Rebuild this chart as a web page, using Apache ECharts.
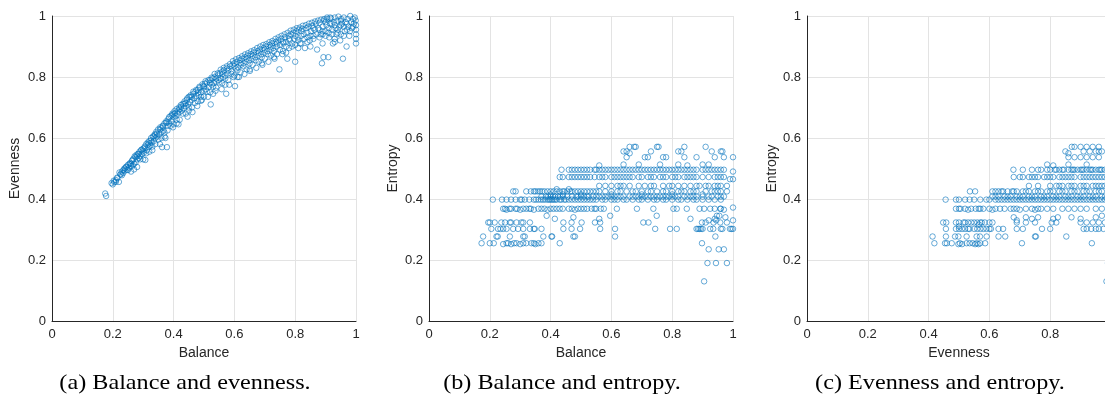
<!DOCTYPE html>
<html lang="en">
<head>
    <meta charset="UTF-8">
    <title>Balance, evenness and entropy</title>
    <script src="https://cdn.jsdelivr.net/npm/echarts@6.0.0/dist/echarts.min.js"></script>
    <style>
        * {
            margin: 0;
            padding: 0;
            box-sizing: border-box;
        }

        body {
            background-color: #ffffff;
        }

        #chart {
            width: 1105px;
            height: 394px;
        }
    </style>
</head>
<body>
    <div id="chart"></div>

    <script>
        // (a) balance -> evenness
        const balanceEvenness = [
            [0.175,0.418],[0.178,0.41],[0.196,0.452],[0.2,0.448],[0.203,0.46],[0.21,0.456],[0.214,0.47],[0.22,0.456],
            [0.222,0.487],[0.226,0.482],[0.23,0.49],[0.234,0.485],[0.238,0.5],[0.24,0.493],[0.244,0.506],[0.248,0.496],
            [0.25,0.512],[0.254,0.503],[0.257,0.518],[0.26,0.508],[0.263,0.525],[0.266,0.51],[0.268,0.532],[0.27,0.497],
            [0.272,0.54],[0.275,0.52],[0.278,0.545],[0.28,0.53],[0.283,0.548],[0.286,0.535],[0.288,0.555],[0.29,0.54],
            [0.293,0.56],[0.296,0.548],[0.3,0.565],[0.302,0.552],[0.305,0.572],[0.307,0.528],[0.31,0.58],[0.312,0.56],
            [0.315,0.585],[0.318,0.57],[0.32,0.59],[0.323,0.575],[0.326,0.6],[0.328,0.585],[0.332,0.605],[0.335,0.59],
            [0.338,0.612],[0.34,0.6],[0.343,0.62],[0.346,0.605],[0.349,0.628],[0.352,0.612],[0.355,0.58],[0.356,0.635],
            [0.36,0.62],[0.362,0.57],[0.364,0.64],[0.367,0.625],[0.37,0.648],[0.373,0.6],[0.376,0.655],[0.378,0.57],
            [0.38,0.64],[0.383,0.662],[0.386,0.648],[0.39,0.672],[0.393,0.655],[0.396,0.68],[0.398,0.635],[0.4,0.668],
            [0.403,0.688],[0.406,0.672],[0.41,0.695],[0.413,0.68],[0.416,0.645],[0.418,0.7],[0.42,0.685],[0.424,0.708],
            [0.427,0.69],[0.43,0.712],[0.433,0.698],[0.436,0.72],[0.44,0.705],[0.443,0.725],[0.446,0.67],[0.448,0.71],
            [0.45,0.735],[0.453,0.718],[0.456,0.74],[0.46,0.725],[0.462,0.685],[0.465,0.745],[0.468,0.73],[0.472,0.752],
            [0.475,0.738],[0.478,0.705],[0.48,0.758],[0.483,0.742],[0.486,0.765],[0.49,0.75],[0.493,0.725],[0.496,0.77],
            [0.5,0.755],[0.503,0.778],[0.506,0.76],[0.51,0.782],[0.513,0.735],[0.516,0.768],[0.52,0.79],[0.522,0.71],
            [0.525,0.775],[0.528,0.795],[0.532,0.78],[0.535,0.8],[0.538,0.755],[0.54,0.785],[0.545,0.805],[0.548,0.79],
            [0.552,0.812],[0.555,0.795],[0.558,0.76],[0.56,0.818],[0.563,0.8],[0.566,0.822],[0.57,0.805],[0.573,0.745],
            [0.576,0.828],[0.58,0.812],[0.583,0.775],[0.586,0.835],[0.59,0.818],[0.594,0.84],[0.597,0.8],[0.6,0.845],
            [0.602,0.77],[0.605,0.828],[0.608,0.85],[0.612,0.832],[0.615,0.8],[0.618,0.855],[0.622,0.84],[0.626,0.86],
            [0.63,0.845],[0.633,0.81],[0.636,0.865],[0.64,0.85],[0.644,0.87],[0.648,0.855],[0.651,0.82],[0.655,0.875],
            [0.66,0.86],[0.664,0.88],[0.668,0.865],[0.672,0.83],[0.676,0.885],[0.68,0.87],[0.684,0.89],[0.688,0.875],
            [0.692,0.84],[0.696,0.895],[0.7,0.88],[0.704,0.9],[0.708,0.885],[0.712,0.85],[0.716,0.905],[0.72,0.89],
            [0.724,0.91],[0.728,0.895],[0.732,0.86],[0.736,0.915],[0.74,0.9],[0.744,0.92],[0.748,0.825],[0.75,0.905],
            [0.754,0.925],[0.758,0.875],[0.762,0.91],[0.766,0.93],[0.77,0.915],[0.774,0.86],[0.778,0.935],[0.782,0.92],
            [0.786,0.94],[0.79,0.9],[0.794,0.945],[0.798,0.925],[0.8,0.85],[0.804,0.95],[0.808,0.93],[0.812,0.955],
            [0.816,0.91],[0.82,0.935],[0.824,0.958],[0.828,0.94],[0.832,0.895],[0.836,0.96],[0.84,0.945],[0.844,0.965],
            [0.848,0.92],[0.852,0.95],[0.856,0.968],[0.86,0.935],[0.864,0.955],[0.868,0.975],[0.872,0.89],[0.876,0.96],
            [0.88,0.978],[0.884,0.94],[0.888,0.845],[0.89,0.965],[0.893,0.865],[0.896,0.985],[0.9,0.95],[0.903,0.97],
            [0.906,0.99],[0.909,0.865],[0.912,0.93],[0.915,0.975],[0.918,0.992],[0.921,0.955],[0.924,0.91],[0.927,0.98],
            [0.93,0.995],[0.933,0.96],[0.936,0.94],[0.939,0.985],[0.942,0.998],[0.945,0.965],[0.948,0.92],[0.951,0.99],
            [0.954,0.975],[0.957,0.86],[0.96,0.995],[0.963,0.95],[0.966,0.98],[0.969,0.9],[0.972,0.99],[0.975,0.965],
            [0.978,0.935],[0.981,1.0],[0.984,0.98],[0.987,0.96],[0.99,0.99],[0.993,0.975],[0.996,0.995],[0.999,0.985],
            [1.0,0.97],[1.0,0.955],[1.0,0.94],[1.0,0.925],[1.0,0.91],
            [0.88,0.955],[0.89,0.94],[0.91,0.945],[0.92,0.975],[0.93,0.925],[0.94,0.955],[0.95,0.94],[0.96,0.965],
            [0.97,0.975],[0.95,0.985],[0.9,0.98],[0.86,0.96],[0.84,0.93],[0.82,0.95],[0.8,0.935],[0.78,0.925],
            [0.76,0.915],[0.74,0.91],[0.72,0.9],[0.7,0.89],[0.68,0.88],[0.66,0.87],[0.64,0.86],[0.62,0.845],
            [0.6,0.835],[0.58,0.822],[0.56,0.81],[0.54,0.795],[0.52,0.78],[0.5,0.768],[0.48,0.748],[0.46,0.735],
            [0.44,0.715],[0.42,0.695],[0.4,0.678],[0.38,0.652],[0.36,0.632],[0.34,0.61],[0.32,0.582],[0.3,0.558],
            [0.28,0.54],[0.26,0.515],[0.24,0.5],
            [0.21,0.462],[0.23,0.478],[0.25,0.495],[0.27,0.515],[0.29,0.53],[0.31,0.55],[0.33,0.572],[0.35,0.595],
            [0.37,0.618],[0.39,0.64],[0.41,0.66],[0.43,0.68],[0.45,0.7],[0.47,0.715],[0.49,0.735],[0.51,0.752],
            [0.53,0.768],[0.55,0.782],[0.57,0.795],[0.59,0.81],[0.61,0.822],[0.63,0.835],[0.65,0.845],[0.67,0.855],
            [0.69,0.865],[0.71,0.875],[0.73,0.885],[0.75,0.89],[0.77,0.9],[0.79,0.91],[0.81,0.92],[0.83,0.925],
            [0.85,0.935],[0.87,0.94],[0.89,0.95],[0.91,0.96],[0.93,0.97],[0.95,0.97],[0.97,0.955],[0.99,0.965],
            [0.26,0.49],[0.28,0.505],[0.3,0.53],[0.32,0.555],[0.34,0.58],[0.36,0.6],[0.38,0.625],[0.4,0.645],
            [0.42,0.66],[0.44,0.68],[0.46,0.7],[0.48,0.72],[0.5,0.735],[0.52,0.75],[0.54,0.765],[0.56,0.78],
            [0.58,0.79],[0.6,0.805],[0.62,0.815],[0.64,0.825],[0.66,0.84],[0.68,0.85],[0.7,0.86],[0.72,0.87],
            [0.74,0.875],[0.76,0.885],[0.78,0.895],[0.8,0.905],[0.82,0.91],[0.84,0.915],[0.86,0.925],[0.88,0.93],
            [0.9,0.935],[0.92,0.94],[0.94,0.945],[0.96,0.935],[0.98,0.95],
            [0.205,0.455],[0.215,0.468],[0.225,0.48],[0.235,0.495],[0.245,0.505],[0.255,0.515],[0.265,0.528],[0.275,0.538],
            [0.285,0.548],[0.295,0.562],[0.305,0.568],[0.315,0.578],[0.325,0.592],[0.335,0.605],[0.345,0.615],[0.355,0.628],
            [0.365,0.638],[0.375,0.65],[0.385,0.668],[0.395,0.675],[0.405,0.682],[0.415,0.69],[0.425,0.702],[0.435,0.712],
            [0.445,0.73],[0.455,0.735],[0.465,0.752],[0.475,0.758],[0.485,0.768],[0.495,0.776],[0.505,0.786],[0.515,0.79],
            [0.525,0.798],[0.535,0.81],[0.545,0.812],[0.555,0.824],[0.565,0.83],[0.575,0.835],[0.585,0.842],[0.595,0.852],
            [0.605,0.858],[0.615,0.862],[0.625,0.868],[0.635,0.874],[0.645,0.878],[0.655,0.884],[0.665,0.888],[0.675,0.895],
            [0.685,0.9],[0.695,0.905],[0.705,0.908],[0.715,0.914],[0.725,0.918],[0.735,0.925],[0.745,0.93],[0.755,0.935],
            [0.765,0.94],[0.775,0.945],[0.785,0.952],[0.795,0.955],[0.805,0.96],[0.815,0.962],[0.825,0.968],[0.835,0.97],
            [0.845,0.975],[0.855,0.978],[0.865,0.982],[0.875,0.985],[0.885,0.988],[0.895,0.99],[0.905,0.995],[0.915,0.995],
            [0.33,0.56],[0.37,0.605],[0.41,0.648],[0.45,0.69],[0.49,0.722],[0.53,0.745],[0.57,0.775],[0.61,0.8],
            [0.65,0.825],[0.69,0.845],[0.73,0.865],[0.77,0.88],[0.81,0.895],[0.85,0.9],[0.89,0.91],[0.93,0.915]
        ];

        // (b) balance -> entropy
        const balanceEntropy = [
            [0.173,0.255],[0.2,0.255],[0.213,0.255],[0.244,0.252],[0.26,0.255],[0.27,0.252],[0.288,0.255],[0.3,0.252],
            [0.31,0.255],[0.32,0.255],[0.337,0.255],[0.35,0.252],[0.36,0.255],[0.37,0.255],[0.43,0.255],[0.255,0.255],
            [0.28,0.255],[0.345,0.255],[0.898,0.255],
            [0.178,0.277],[0.222,0.277],[0.266,0.277],[0.31,0.277],[0.315,0.277],[0.376,0.277],[0.403,0.277],[0.405,0.277],
            [0.475,0.277],[0.48,0.277],[0.612,0.277],[0.942,0.277],[0.226,0.277],
            [0.205,0.302],[0.227,0.302],[0.235,0.302],[0.244,0.302],[0.255,0.302],[0.277,0.302],[0.293,0.302],[0.31,0.302],
            [0.332,0.302],[0.345,0.302],[0.348,0.302],[0.37,0.302],[0.442,0.302],[0.469,0.302],[0.497,0.302],[0.563,0.302],
            [0.612,0.302],[0.744,0.302],[0.793,0.302],[0.815,0.302],[0.88,0.302],[0.885,0.302],[0.89,0.302],[0.895,0.302],
            [0.9,0.302],[0.925,0.302],[0.935,0.302],[0.96,0.302],[0.965,0.302],[0.99,0.302],[0.995,0.302],[1.0,0.302],
            [0.195,0.323],[0.2,0.323],[0.216,0.323],[0.238,0.323],[0.25,0.323],[0.266,0.323],[0.27,0.323],[0.288,0.323],
            [0.304,0.323],[0.31,0.323],[0.332,0.323],[0.442,0.323],[0.469,0.323],[0.502,0.323],[0.546,0.323],[0.563,0.323],
            [0.705,0.323],[0.722,0.323],[0.898,0.323],[0.91,0.323],[0.936,0.323],[0.958,0.323],[0.98,0.323],[1.0,0.33],
            [0.92,0.33],[0.945,0.33],
            [0.387,0.345],[0.414,0.335],[0.475,0.34],[0.56,0.335],[0.596,0.345],[0.749,0.345],[0.86,0.335],[0.947,0.345],
            [0.975,0.34],[0.94,0.335],[0.955,0.345],
            [0.244,0.368],[0.255,0.365],[0.27,0.368],[0.285,0.368],[0.3,0.365],[0.31,0.368],[0.32,0.368],[0.335,0.368],
            [0.345,0.365],[0.36,0.368],[0.38,0.368],[0.39,0.365],[0.4,0.368],[0.41,0.368],[0.42,0.368],[0.46,0.368],
            [0.47,0.368],[0.48,0.365],[0.49,0.368],[0.5,0.368],[0.52,0.368],[0.535,0.368],[0.55,0.368],[0.565,0.368],
            [0.575,0.368],[0.618,0.368],[0.684,0.368],[0.738,0.368],[0.804,0.368],[0.815,0.368],[0.848,0.368],[0.89,0.368],
            [0.905,0.368],[0.925,0.368],[0.94,0.368],[0.958,0.368],[1.0,0.372],
            [0.25,0.368],[0.265,0.368],[0.29,0.368],[0.33,0.368],[0.37,0.368],[0.43,0.368],[0.44,0.368],[0.51,0.368],
            [0.545,0.368],[0.96,0.368],[0.97,0.365],
            [0.21,0.398],[0.24,0.398],[0.255,0.398],[0.27,0.398],[0.285,0.398],[0.3,0.398],[0.33,0.398],[0.345,0.398],
            [0.36,0.398],[0.375,0.398],[0.39,0.398],[0.4,0.398],[0.41,0.398],[0.42,0.398],[0.43,0.398],[0.445,0.398],
            [0.46,0.398],[0.48,0.398],[0.5,0.398],[0.52,0.398],[0.55,0.398],[0.6,0.398],[0.62,0.398],[0.65,0.398],
            [0.7,0.398],[0.72,0.398],[0.75,0.398],[0.78,0.398],[0.8,0.398],[0.83,0.398],[0.88,0.398],[0.9,0.398],
            [0.92,0.398],[0.94,0.398],[0.96,0.398],
            [0.305,0.398],[0.315,0.398],[0.352,0.398],[0.368,0.398],[0.382,0.398],[0.395,0.398],[0.405,0.398],[0.415,0.398],
            [0.435,0.398],[0.45,0.398],[0.47,0.398],[0.49,0.398],[0.51,0.398],[0.53,0.398],[0.54,0.398],[0.57,0.398],
            [0.58,0.398],[0.61,0.398],[0.64,0.398],[0.67,0.398],[0.69,0.398],[0.74,0.398],[0.77,0.398],[0.82,0.398],
            [0.85,0.398],[0.87,0.398],
            [0.37,0.408],[0.385,0.408],[0.4,0.408],[0.415,0.408],[0.425,0.408],[0.44,0.408],[0.47,0.408],[0.485,0.408],
            [0.5,0.408],[0.51,0.408],[0.525,0.408],[0.54,0.408],[0.56,0.408],[0.58,0.408],[0.6,0.408],[0.61,0.408],
            [0.63,0.408],[0.66,0.408],[0.68,0.408],[0.69,0.408],[0.71,0.408],[0.73,0.408],[0.74,0.408],[0.76,0.408],
            [0.77,0.408],[0.79,0.408],[0.81,0.408],[0.85,0.408],[0.86,0.408],[0.9,0.408],[0.93,0.408],[0.95,0.408],
            [0.97,0.408],
            [0.392,0.408],[0.408,0.408],[0.432,0.408],[0.455,0.408],[0.49,0.408],[0.52,0.408],[0.55,0.408],[0.57,0.408],
            [0.59,0.408],[0.62,0.408],[0.64,0.408],[0.67,0.408],[0.7,0.408],[0.72,0.408],[0.75,0.408],[0.78,0.408],
            [0.8,0.408],[0.82,0.408],[0.84,0.408],[0.87,0.408],[0.88,0.408],[0.92,0.408],[0.96,0.408],
            [0.4,0.415],[0.44,0.415],[0.5,0.415],[0.6,0.415],[0.7,0.415],[0.8,0.415],[0.9,0.415],
            [0.277,0.425],[0.285,0.425],[0.32,0.425],[0.335,0.425],[0.35,0.425],[0.365,0.425],[0.38,0.425],[0.39,0.425],
            [0.41,0.425],[0.43,0.425],[0.44,0.425],[0.455,0.425],[0.47,0.425],[0.49,0.425],[0.5,0.425],[0.51,0.425],
            [0.53,0.425],[0.55,0.425],[0.56,0.425],[0.6,0.425],[0.63,0.425],[0.65,0.425],[0.68,0.425],[0.7,0.425],
            [0.73,0.425],[0.75,0.425],[0.78,0.425],[0.8,0.425],[0.82,0.425],[0.84,0.425],[0.86,0.425],[0.88,0.425],
            [0.93,0.425],[0.95,0.425],[0.96,0.425],[0.98,0.425],[0.42,0.432],[0.46,0.432],
            [0.345,0.425],[0.358,0.425],[0.372,0.425],[0.4,0.425],[0.42,0.425],[0.445,0.425],[0.465,0.425],[0.48,0.425],
            [0.52,0.425],[0.54,0.425],[0.58,0.425],[0.62,0.425],[0.67,0.425],[0.72,0.425],[0.77,0.425],[0.83,0.425],
            [0.87,0.425],[0.91,0.425],[0.94,0.425],
            [0.56,0.443],[0.58,0.443],[0.6,0.443],[0.63,0.443],[0.64,0.443],[0.69,0.443],[0.71,0.443],[0.74,0.443],
            [0.77,0.443],[0.8,0.443],[0.84,0.443],[0.86,0.443],[0.89,0.443],[0.91,0.443],[0.92,0.443],[0.94,0.443],
            [0.96,0.443],[0.98,0.443],
            [0.62,0.443],[0.66,0.443],[0.73,0.443],[0.79,0.443],[0.82,0.443],[0.88,0.443],[0.95,0.443],
            [0.43,0.472],[0.44,0.472],[0.46,0.472],[0.47,0.472],[0.49,0.472],[0.5,0.472],[0.52,0.472],[0.53,0.472],
            [0.545,0.472],[0.56,0.472],[0.58,0.472],[0.6,0.472],[0.62,0.472],[0.64,0.472],[0.65,0.472],[0.67,0.472],
            [0.69,0.472],[0.72,0.472],[0.74,0.472],[0.76,0.472],[0.78,0.472],[0.8,0.472],[0.82,0.472],[0.84,0.472],
            [0.85,0.472],[0.87,0.472],[0.9,0.472],[0.92,0.472],[0.95,0.472],[0.97,0.472],[0.99,0.465],[1.0,0.465],
            [0.48,0.472],[0.51,0.472],[0.57,0.472],[0.61,0.472],[0.63,0.472],[0.66,0.472],[0.7,0.472],[0.73,0.472],
            [0.77,0.472],[0.81,0.472],[0.86,0.472],[0.88,0.472],[0.94,0.472],[0.96,0.472],
            [0.436,0.496],[0.46,0.496],[0.47,0.496],[0.49,0.496],[0.5,0.496],[0.52,0.496],[0.53,0.496],[0.545,0.496],
            [0.55,0.496],[0.57,0.496],[0.59,0.496],[0.6,0.496],[0.61,0.496],[0.62,0.496],[0.64,0.496],[0.66,0.496],
            [0.68,0.496],[0.69,0.496],[0.7,0.496],[0.72,0.496],[0.73,0.496],[0.75,0.496],[0.77,0.496],[0.78,0.496],
            [0.79,0.496],[0.81,0.496],[0.83,0.496],[0.85,0.496],[0.86,0.496],[0.87,0.496],[0.9,0.496],[0.91,0.496],
            [0.94,0.496],[0.95,0.496],[0.97,0.496],[1.0,0.49],
            [0.48,0.496],[0.51,0.496],[0.56,0.496],[0.58,0.496],[0.63,0.496],[0.65,0.496],[0.67,0.496],[0.71,0.496],
            [0.74,0.496],[0.76,0.496],[0.8,0.496],[0.82,0.496],[0.84,0.496],[0.88,0.496],[0.92,0.496],[0.93,0.496],
            [0.96,0.496],
            [0.56,0.51],[0.64,0.513],[0.69,0.513],[0.76,0.513],[0.82,0.513],[0.85,0.51],[0.9,0.513],[0.92,0.513],
            [0.65,0.537],[0.71,0.537],[0.72,0.537],[0.77,0.537],[0.78,0.537],[0.84,0.537],[0.88,0.537],[0.94,0.537],
            [0.97,0.537],[1.0,0.537],
            [0.64,0.556],[0.65,0.556],[0.66,0.55],[0.73,0.556],[0.82,0.556],[0.83,0.556],[0.93,0.556],[0.96,0.556],
            [0.965,0.556],
            [0.66,0.571],[0.675,0.571],[0.68,0.571],[0.75,0.571],[0.755,0.571],[0.84,0.571],[0.91,0.571],
            [0.92,0.235],[0.953,0.235],[0.97,0.235],[0.916,0.19],[0.944,0.19],[0.98,0.19],[0.905,0.13]
        ];

        // (c) evenness -> entropy
        const evennessEntropy = [
            [0.419,0.255],[0.454,0.255],[0.46,0.255],[0.476,0.255],[0.498,0.252],[0.503,0.255],[0.525,0.255],[0.535,0.255],
            [0.553,0.252],[0.558,0.255],[0.564,0.252],[0.57,0.255],[0.586,0.255],[0.707,0.255],[0.937,0.255],[0.51,0.252],
            [0.545,0.255],
            [0.413,0.277],[0.457,0.277],[0.487,0.277],[0.498,0.277],[0.525,0.277],[0.558,0.277],[0.569,0.277],[0.591,0.277],
            [0.63,0.277],[0.652,0.277],[0.75,0.277],[0.753,0.277],[0.853,0.277],
            [0.457,0.302],[0.49,0.302],[0.5,0.302],[0.51,0.302],[0.52,0.302],[0.535,0.302],[0.55,0.302],[0.57,0.302],
            [0.58,0.302],[0.6,0.302],[0.605,0.302],[0.63,0.302],[0.645,0.302],[0.69,0.302],[0.71,0.302],[0.773,0.302],
            [0.8,0.302],[0.91,0.302],[0.92,0.302],[0.935,0.302],[0.95,0.302],[0.96,0.302],[0.975,0.302],
            [0.53,0.302],[0.56,0.302],[0.59,0.302],
            [0.448,0.323],[0.458,0.323],[0.49,0.323],[0.5,0.323],[0.515,0.323],[0.53,0.323],[0.54,0.323],[0.55,0.323],
            [0.56,0.323],[0.575,0.323],[0.585,0.323],[0.61,0.323],[0.69,0.323],[0.72,0.323],[0.75,0.323],[0.805,0.323],
            [0.82,0.323],[0.9,0.323],[0.92,0.323],[0.94,0.323],[0.96,0.323],[0.98,0.323],[0.565,0.316],[0.5,0.31],
            [0.52,0.323],[0.57,0.323],[0.6,0.323],
            [0.68,0.34],[0.69,0.33],[0.72,0.34],[0.74,0.335],[0.76,0.34],[0.81,0.335],[0.825,0.34],[0.87,0.34],
            [0.9,0.335],[0.95,0.34],[0.97,0.345],
            [0.49,0.368],[0.505,0.368],[0.52,0.368],[0.53,0.365],[0.54,0.368],[0.555,0.368],[0.565,0.368],[0.58,0.368],
            [0.6,0.368],[0.61,0.365],[0.62,0.368],[0.635,0.368],[0.65,0.368],[0.67,0.368],[0.69,0.368],[0.7,0.365],
            [0.72,0.368],[0.74,0.368],[0.75,0.365],[0.77,0.368],[0.79,0.368],[0.81,0.368],[0.84,0.368],[0.86,0.368],
            [0.88,0.368],[0.9,0.368],[0.92,0.368],[0.95,0.368],[0.97,0.368],
            [0.5,0.368],[0.57,0.368],[0.68,0.368],[0.76,0.368],
            [0.456,0.398],[0.49,0.398],[0.5,0.398],[0.52,0.398],[0.535,0.398],[0.55,0.398],[0.57,0.398],[0.59,0.398],
            [0.6,0.398],[0.62,0.398],[0.64,0.398],[0.66,0.398],[0.68,0.398],[0.7,0.398],[0.72,0.398],[0.74,0.398],
            [0.76,0.398],[0.78,0.398],[0.8,0.398],[0.82,0.398],[0.84,0.398],[0.86,0.398],[0.88,0.398],[0.9,0.398],
            [0.92,0.398],[0.94,0.398],[0.96,0.398],[0.98,0.398],
            [0.63,0.398],[0.65,0.398],[0.67,0.398],[0.69,0.398],[0.71,0.398],[0.73,0.398],[0.75,0.398],[0.77,0.398],
            [0.79,0.398],[0.81,0.398],[0.83,0.398],[0.85,0.398],[0.87,0.398],[0.89,0.398],[0.91,0.398],[0.93,0.398],
            [0.95,0.398],[0.97,0.398],
            [0.61,0.408],[0.63,0.408],[0.65,0.408],[0.67,0.408],[0.69,0.408],[0.71,0.408],[0.73,0.408],[0.75,0.408],
            [0.77,0.408],[0.79,0.408],[0.81,0.408],[0.83,0.408],[0.85,0.408],[0.87,0.408],[0.89,0.408],[0.91,0.408],
            [0.93,0.408],[0.95,0.408],[0.97,0.408],
            [0.62,0.408],[0.66,0.408],[0.7,0.408],[0.74,0.408],[0.78,0.408],[0.82,0.408],[0.86,0.408],[0.9,0.408],
            [0.94,0.408],[0.98,0.408],
            [0.536,0.425],[0.553,0.425],[0.61,0.425],[0.62,0.425],[0.63,0.425],[0.645,0.425],[0.66,0.425],[0.675,0.425],
            [0.69,0.425],[0.71,0.425],[0.73,0.425],[0.75,0.425],[0.77,0.425],[0.79,0.425],[0.81,0.425],[0.83,0.425],
            [0.85,0.425],[0.87,0.425],[0.89,0.425],[0.91,0.425],[0.93,0.425],[0.95,0.425],[0.97,0.425],
            [0.64,0.425],[0.68,0.425],[0.72,0.425],[0.76,0.425],[0.8,0.425],[0.84,0.425],[0.88,0.425],[0.92,0.425],
            [0.96,0.425],
            [0.73,0.443],[0.76,0.443],[0.8,0.443],[0.82,0.443],[0.84,0.443],[0.86,0.443],[0.88,0.443],[0.9,0.443],
            [0.92,0.443],[0.94,0.443],[0.96,0.443],[0.98,0.443],
            [0.83,0.443],[0.87,0.443],[0.91,0.443],[0.95,0.443],[0.97,0.443],
            [0.68,0.472],[0.7,0.472],[0.71,0.472],[0.73,0.472],[0.74,0.472],[0.76,0.472],[0.78,0.472],[0.8,0.472],
            [0.81,0.472],[0.83,0.472],[0.85,0.472],[0.86,0.472],[0.88,0.472],[0.9,0.472],[0.91,0.472],[0.93,0.472],
            [0.95,0.472],[0.96,0.472],[0.98,0.472],
            [0.75,0.472],[0.79,0.472],[0.84,0.472],[0.87,0.472],[0.92,0.472],[0.94,0.472],[0.97,0.472],
            [0.679,0.496],[0.71,0.496],[0.74,0.496],[0.76,0.496],[0.77,0.496],[0.79,0.496],[0.8,0.496],[0.82,0.496],
            [0.83,0.496],[0.84,0.496],[0.86,0.496],[0.87,0.496],[0.88,0.496],[0.89,0.496],[0.9,0.496],[0.91,0.496],
            [0.92,0.496],[0.93,0.496],[0.94,0.496],[0.95,0.496],[0.96,0.496],[0.97,0.496],[0.98,0.496],
            [0.815,0.496],[0.845,0.496],[0.875,0.496],[0.905,0.496],[0.935,0.496],[0.965,0.496],
            [0.79,0.513],[0.81,0.51],[0.86,0.513],[0.92,0.513],
            [0.86,0.537],[0.88,0.537],[0.9,0.537],[0.92,0.537],[0.94,0.537],[0.96,0.537],
            [0.85,0.556],[0.86,0.55],[0.91,0.556],[0.93,0.556],[0.95,0.556],[0.96,0.556],[0.97,0.556],
            [0.871,0.571],[0.88,0.571],[0.9,0.571],[0.92,0.571],[0.94,0.571],[0.96,0.571],
            [0.985,0.13],[0.99,0.19]
        ];

        const xNames = ['Balance', 'Balance', 'Evenness'];
        const yNames = ['Evenness', 'Entropy', 'Entropy'];
        const captions = ['(a) Balance and evenness.', '(b) Balance and entropy.', '(c) Evenness and entropy.'];
        const panelData = [balanceEvenness, balanceEntropy, evennessEntropy];

        const gridLefts = [52, 429, 807];
        const captionX = [185, 562, 940];
        const yNameGaps = [30, 29, 28];

        const textColor = '#262626';
        const markerColor = 'rgba(0, 114, 189, 0.75)';

        const chart = echarts.init(document.getElementById('chart'));

        // 三个子图并排，第三个超出画布右边缘
        const grids = gridLefts.map(left => ({
            left: left,
            top: 16,
            width: 304,
            height: 305,
            outerBoundsMode: 'none'
        }));

        const axisCommon = {
            type: 'value',
            min: 0,
            max: 1,
            interval: 0.2,
            axisLine: { show: true, lineStyle: { color: textColor, width: 1 } },
            axisTick: { show: false },
            axisLabel: { color: textColor, fontSize: 13, fontFamily: 'Liberation Sans' },
            splitLine: { show: true, lineStyle: { color: '#e3e3e3', width: 1 } },
            nameLocation: 'middle',
            nameTextStyle: { color: textColor, fontSize: 14, fontFamily: 'Liberation Sans' }
        };

        chart.setOption({
            animation: false,
            grid: grids,
            xAxis: xNames.map((name, i) => Object.assign({}, axisCommon, {
                gridIndex: i,
                name: name,
                nameGap: 22,
                axisLabel: Object.assign({}, axisCommon.axisLabel, { margin: 7 })
            })),
            yAxis: yNames.map((name, i) => Object.assign({}, axisCommon, {
                gridIndex: i,
                name: name,
                nameGap: yNameGaps[i],
                axisLabel: Object.assign({}, axisCommon.axisLabel, { margin: 6 })
            })),
            series: panelData.map((data, i) => ({
                type: 'scatter',
                xAxisIndex: i,
                yAxisIndex: i,
                data: data,
                symbol: 'circle',
                symbolSize: 5.5,
                clip: false,
                itemStyle: {
                    color: 'rgba(0,0,0,0)',
                    borderColor: markerColor,
                    borderWidth: 1
                }
            })),
            graphic: captions.map((text, i) => ({
                type: 'text',
                x: captionX[i],
                y: 383,
                scaleX: 1.1,
                style: {
                    text: text,
                    fill: '#000000',
                    font: '22px "Liberation Serif"',
                    textAlign: 'center',
                    textVerticalAlign: 'middle'
                }
            }))
        });
    </script>
</body>
</html>
